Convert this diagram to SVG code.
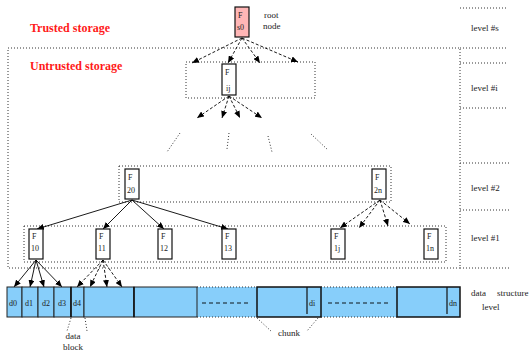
<svg xmlns="http://www.w3.org/2000/svg" width="532" height="351" viewBox="0 0 532 351">
<style>
text{font-family:"Liberation Serif","Times New Roman",serif;fill:#222}
.lbl{font-size:9px}
.nd{font-size:8px}
.red{font-size:12px;font-weight:bold;fill:#ff1a1a}
.dot{fill:none;stroke:#333;stroke-width:1;stroke-dasharray:1,2}
.node{fill:#fff;stroke:#111;stroke-width:1.2}
.sol{stroke:#000;stroke-width:0.9;fill:none;marker-end:url(#ah)}
.dsh{stroke:#000;stroke-width:0.9;fill:none;stroke-dasharray:3,2;marker-end:url(#ah)}
.cell{fill:#87cefa;stroke:#222;stroke-width:1}
.chunk{fill:#87cefa;stroke:#111;stroke-width:1.5}
.cells{font-size:8px}
</style>
<defs>
<marker id="ah" markerUnits="userSpaceOnUse" markerWidth="8" markerHeight="6" refX="7" refY="3" orient="auto">
<path d="M0,0 L7,3 L0,6 z" fill="#000"/>
</marker>
</defs>

<g id="labels">
<text class="red" x="30" y="32">Trusted storage</text>
<text class="red" x="30" y="70">Untrusted storage</text>
<text class="lbl" x="264" y="18">root</text>
<text class="lbl" x="263" y="29">node</text>
</g>

<g id="frames">
<rect class="dot" x="8" y="48" width="452" height="220"/>
<line class="dot" x1="460" y1="48" x2="508" y2="48"/>
<line class="dot" x1="460" y1="8" x2="508" y2="8"/>
<line class="dot" x1="460" y1="63" x2="508" y2="63"/>
<line class="dot" x1="460" y1="108" x2="508" y2="108"/>
<line class="dot" x1="460" y1="163" x2="510" y2="163"/>
<line class="dot" x1="460" y1="210" x2="510" y2="210"/>
<line class="dot" x1="460" y1="268" x2="510" y2="268"/>
<rect class="dot" x="186" y="62" width="129" height="36"/>
<rect class="dot" x="119" y="166" width="272" height="36"/>
<rect class="dot" x="24" y="226" width="422" height="36"/>
<line class="dot" x1="180" y1="133" x2="167" y2="152"/>
<line class="dot" x1="229" y1="133" x2="227" y2="149"/>
<line class="dot" x1="268" y1="136" x2="272" y2="152"/>
<line class="dot" x1="311" y1="134" x2="328" y2="150"/>
</g>

<g id="level-labels">
<text class="lbl" x="471" y="31">level #s</text>
<text class="lbl" x="471" y="91">level #i</text>
<text class="lbl" x="471" y="191">level #2</text>
<text class="lbl" x="471" y="241">level #1</text>
<text class="lbl" x="471" y="296">data</text>
<text class="lbl" x="497" y="296">structure</text>
<text class="lbl" x="482" y="310">level</text>
</g>

<g id="connectors">
<line class="dsh" x1="242" y1="38" x2="192" y2="63"/>
<line class="dsh" x1="242" y1="38" x2="228" y2="63"/>
<line class="dsh" x1="242" y1="38" x2="260" y2="63"/>
<line class="dsh" x1="242" y1="38" x2="298" y2="62"/>
<line class="dsh" x1="229" y1="96" x2="197" y2="118"/>
<line class="dsh" x1="229" y1="96" x2="222" y2="118"/>
<line class="dsh" x1="229" y1="96" x2="240" y2="118"/>
<line class="dsh" x1="229" y1="96" x2="262" y2="118"/>
<line class="sol" x1="132" y1="200" x2="37" y2="229"/>
<line class="sol" x1="132" y1="200" x2="103" y2="229"/>
<line class="sol" x1="132" y1="200" x2="164" y2="229"/>
<line class="sol" x1="132" y1="200" x2="228" y2="229"/>
<line class="dsh" x1="380" y1="200" x2="340" y2="228"/>
<line class="dsh" x1="380" y1="200" x2="359" y2="228"/>
<line class="dsh" x1="380" y1="200" x2="388" y2="226"/>
<line class="dsh" x1="380" y1="200" x2="410" y2="224"/>
<line class="sol" x1="36" y1="260" x2="14" y2="287"/>
<line class="sol" x1="36" y1="260" x2="30" y2="287"/>
<line class="sol" x1="36" y1="260" x2="44" y2="287"/>
<line class="sol" x1="36" y1="260" x2="62" y2="287"/>
<line class="dsh" x1="103" y1="260" x2="77" y2="287"/>
<line class="dsh" x1="103" y1="260" x2="90" y2="287"/>
<line class="dsh" x1="103" y1="260" x2="107" y2="287"/>
<line class="dsh" x1="103" y1="260" x2="122" y2="287"/>
</g>

<g id="node-s0">
<rect x="235" y="7" width="14" height="30" fill="#ffb6b6" stroke="#111" stroke-width="1.2"/>
<text class="nd" x="238" y="18">F</text>
<text class="nd" x="237" y="30">s0</text>
</g>
<g id="node-ij">
<rect class="node" x="222" y="64" width="14" height="31"/>
<text class="nd" x="225" y="75">F</text>
<text class="nd" x="226" y="91">ij</text>
</g>
<g id="node-20">
<rect class="node" x="125" y="169" width="14" height="30"/>
<text class="nd" x="128" y="180">F</text>
<text class="nd" x="127" y="193">20</text>
</g>
<g id="node-2n">
<rect class="node" x="372" y="169" width="14" height="30"/>
<text class="nd" x="375" y="180">F</text>
<text class="nd" x="374" y="193">2n</text>
</g>
<g id="node-10">
<rect class="node" x="29" y="229" width="14" height="30"/>
<text class="nd" x="32" y="239">F</text>
<text class="nd" x="31" y="251">10</text>
</g>
<g id="node-11">
<rect class="node" x="96" y="229" width="14" height="30"/>
<text class="nd" x="99" y="239">F</text>
<text class="nd" x="98" y="251">11</text>
</g>
<g id="node-12">
<rect class="node" x="158" y="229" width="14" height="30"/>
<text class="nd" x="161" y="239">F</text>
<text class="nd" x="160" y="251">12</text>
</g>
<g id="node-13">
<rect class="node" x="222" y="229" width="14" height="30"/>
<text class="nd" x="225" y="239">F</text>
<text class="nd" x="224" y="251">13</text>
</g>
<g id="node-1j">
<rect class="node" x="331" y="229" width="14" height="30"/>
<text class="nd" x="334" y="239">F</text>
<text class="nd" x="334" y="251">1j</text>
</g>
<g id="node-1n">
<rect class="node" x="424" y="229" width="14" height="30"/>
<text class="nd" x="427" y="239">F</text>
<text class="nd" x="426" y="251">1n</text>
</g>

<g id="data-bar">
<rect x="197" y="287" width="60" height="30" fill="#87cefa"/>
<rect x="321" y="287" width="76" height="30" fill="#87cefa"/>
<line class="dot" x1="197" y1="287" x2="257" y2="287"/>
<line class="dot" x1="197" y1="317" x2="257" y2="317"/>
<line class="dot" x1="321" y1="287" x2="397" y2="287"/>
<line class="dot" x1="321" y1="317" x2="397" y2="317"/>
<line x1="202" y1="303" x2="250" y2="303" stroke="#000" stroke-width="0.9" stroke-dasharray="4,3"/>
<line x1="328" y1="303" x2="390" y2="303" stroke="#000" stroke-width="0.9" stroke-dasharray="4,3"/>
<rect class="cell" x="7" y="287" width="15" height="30"/>
<rect class="cell" x="22" y="287" width="16" height="30"/>
<rect class="cell" x="38" y="287" width="16" height="30"/>
<rect class="cell" x="54" y="287" width="17" height="30"/>
<rect class="cell" x="71" y="287" width="13" height="30"/>
<rect class="cell" x="84" y="287" width="50" height="30"/>
<rect class="cell" x="134" y="287" width="63" height="30"/>
<line x1="71" y1="287" x2="71" y2="317" stroke="#111" stroke-width="1.5"/>
<line x1="134" y1="287" x2="134" y2="317" stroke="#111" stroke-width="1.5"/>
<rect class="chunk" x="257" y="287" width="64" height="30"/>
<line x1="307" y1="287" x2="307" y2="314" stroke="#111" stroke-width="1.2"/>
<rect class="chunk" x="397" y="287" width="63" height="30"/>
<line x1="447" y1="287" x2="447" y2="314" stroke="#111" stroke-width="1.2"/>
<text class="cells" x="9" y="306">d0</text>
<text class="cells" x="25" y="306">d1</text>
<text class="cells" x="42" y="306">d2</text>
<text class="cells" x="58" y="306">d3</text>
<text class="cells" x="73" y="306">d4</text>
<text class="cells" x="309" y="306">di</text>
<text class="cells" x="449" y="306">dn</text>
</g>

<g id="annotations">
<line class="dot" x1="71" y1="318" x2="67" y2="331"/>
<line class="dot" x1="85" y1="318" x2="87" y2="331"/>
<text class="lbl" x="73" y="339" text-anchor="middle">data</text>
<text class="lbl" x="73" y="350" text-anchor="middle">block</text>
<line class="dot" x1="257" y1="318" x2="272" y2="332"/>
<line class="dot" x1="318" y1="318" x2="307" y2="331"/>
<text class="lbl" x="289" y="336" text-anchor="middle">chunk</text>
</g>
</svg>
